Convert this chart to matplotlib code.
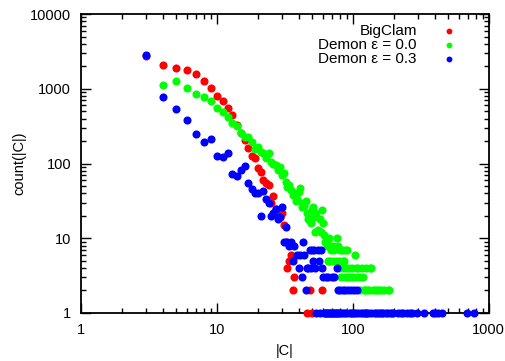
import matplotlib
matplotlib.use("Agg")
import matplotlib.pyplot as plt
from matplotlib.ticker import LogLocator, NullFormatter, FixedLocator, FixedFormatter

plt.rcParams["font.family"] = ["Liberation Sans", "DejaVu Sans"]

# BigClam
bigclam_size = [3, 4, 5, 6, 7, 8, 9, 10, 11, 12, 13, 14, 15, 16, 17, 18, 19, 20,
                21, 22, 23, 24, 25, 26, 27, 28, 29, 30, 31, 32, 33, 34, 35, 36, 37,
                46, 48, 50, 59]
bigclam_count = [2750, 2090, 1900, 1800, 1570, 1270, 1010, 800, 690, 550, 445, 330,
                 255, 205, 160, 125, 118, 87, 78, 60, 55, 52, 30, 37, 25, 21, 19, 22,
                 15, 9, 4, 5, 6, 2, 3, 1, 2, 1, 2]

# Demon eps = 0.0
demon0_size = [4, 5, 6, 7, 8, 9, 10, 11, 12, 13, 14, 15, 16, 17, 18, 19, 20, 21, 22,
               23, 24, 25, 26, 27, 28, 29, 30, 31, 32, 33, 34, 35, 36, 37, 38, 39, 40,
               41, 42, 43, 44, 45, 46, 47, 48, 49, 50, 51, 52, 53, 54, 55, 57, 58, 59,
               60, 61, 62, 64, 65, 67, 69, 71, 73, 76, 78, 81, 83, 87, 90, 103,
               66, 68, 72, 75, 79, 84, 86,
               80, 85, 89, 93, 98, 105, 110, 116, 124, 133, 137,
               82, 88, 92, 95, 100, 108, 112, 118,
               113, 120, 122, 127, 131, 140, 145, 150, 155, 160, 170, 180, 186,
               63, 70, 77, 91, 96, 106, 125, 142, 165, 190]
demon0_count = [1120, 1260, 1010, 860, 780, 690, 560, 490, 420, 345, 315, 255, 230,
                225, 195, 155, 167, 142, 140, 118, 138, 105, 100, 96, 82, 90, 70, 75,
                57, 49, 52, 44, 38, 40, 32, 34, 41, 47, 26, 30, 27, 32, 22, 18, 17, 16,
                24, 26, 19, 12, 22, 13, 18, 12, 24, 16, 11, 9, 9, 8, 10, 7, 8, 7, 10, 8,
                7, 7, 7, 7, 6,
                5, 5, 5, 5, 5, 5, 5,
                4, 4, 4, 4, 4, 4, 4, 4, 4, 4, 4,
                3, 3, 3, 3, 3, 3, 3, 3,
                2, 2, 2, 2, 2, 2, 2, 2, 2, 2, 2, 2, 2,
                1, 1, 1, 1, 1, 1, 1, 1, 1, 1]

# Demon eps = 0.3
demon3_size = [3, 4, 5, 6, 7, 8, 9, 10, 11, 12, 13, 14, 15, 16, 17, 18, 19, 20, 21,
               22, 23, 24, 25, 26, 27, 28, 29, 30, 32,
               31, 33, 35, 43, 34, 37,
               48, 50, 52, 55, 58,
               39, 41, 44,
               36, 51, 56,
               40, 46, 47, 49, 53, 59, 76,
               42, 60, 63, 66, 70, 73,
               45, 78, 81, 85, 88, 92, 97, 102, 107,
               54, 57, 61, 62, 64, 65, 67, 68, 69, 71, 72, 74, 75, 77, 79, 80, 83,
               86, 89, 95, 98, 101, 104, 110, 114, 118, 122, 126, 130, 135, 145,
               150, 156, 162, 168, 175, 182, 190, 197, 214, 225, 235, 250, 262, 272,
               296, 333, 388, 405, 422, 451, 689, 776]
demon3_count = [2830, 780, 536, 380, 248, 194, 210, 126, 122, 138, 72, 68, 82, 92,
                55, 45, 40, 40, 20, 43, 34, 30, 20, 22, 25, 18, 19, 26, 14,
                9, 9, 9, 9, 8, 8,
                7, 7, 7, 7, 7,
                6, 6, 6,
                5, 5, 5,
                4, 4, 4, 4, 4, 4, 4,
                3, 3, 3, 3, 3, 3,
                2, 2, 2, 2, 2, 2, 2, 2, 2,
                1, 1, 1, 1, 1, 1, 1, 1, 1, 1, 1, 1, 1, 1, 1, 1, 1,
                1, 1, 1, 1, 1, 1, 1, 1, 1, 1, 1, 1, 1, 1,
                1, 1, 1, 1, 1, 1, 1, 1, 1, 1, 1, 1, 1, 1,
                1, 1, 1, 1, 1, 1, 1, 1]

fig = plt.figure(figsize=(5.06, 3.61), dpi=100)
ax = fig.add_axes([0.160, 0.133, 0.806, 0.828])

ms = 34
ax.scatter(bigclam_size, bigclam_count, s=ms, c="#ff0000", lw=0,
           label="BigClam", clip_on=False, zorder=3)
ax.scatter(demon0_size, demon0_count, s=ms, c="#00ff00", lw=0,
           label="Demon ε = 0.0", clip_on=False, zorder=4)
ax.scatter(demon3_size, demon3_count, s=ms, c="#0000ff", lw=0,
           label="Demon ε = 0.3", clip_on=False, zorder=5)

ax.set_xscale("log")
ax.set_yscale("log")
ax.set_xlim(1, 1000)
ax.set_ylim(1, 10000)

ax.xaxis.set_major_locator(FixedLocator([1, 10, 100, 1000]))
ax.xaxis.set_major_formatter(FixedFormatter(["1", "10", "100", "1000"]))
ax.yaxis.set_major_locator(FixedLocator([1, 10, 100, 1000, 10000]))
ax.yaxis.set_major_formatter(FixedFormatter(["1", "10", "100", "1000", "10000"]))
ax.xaxis.set_minor_locator(LogLocator(base=10, subs=range(2, 10)))
ax.yaxis.set_minor_locator(LogLocator(base=10, subs=range(2, 10)))
ax.xaxis.set_minor_formatter(NullFormatter())
ax.yaxis.set_minor_formatter(NullFormatter())

ax.tick_params(which="both", direction="in", top=True, right=True,
               labelsize=10.5, width=1, pad=7)
ax.tick_params(which="major", length=7)
ax.tick_params(which="minor", length=3.5)
for sp in ax.spines.values():
    sp.set_linewidth(1.3)

ax.set_xlabel("|C|", fontsize=10.5, labelpad=5)
ax.set_ylabel("count(|C|)", fontsize=10.5, labelpad=3)

ax.legend(loc="upper right", bbox_to_anchor=(0.936, 0.987), frameon=False,
          markerfirst=False, fontsize=11, handletextpad=1.6, labelspacing=0.0,
          borderaxespad=0.0, scatterpoints=1, handlelength=1.0, markerscale=0.72)

fig.savefig("out.png", dpi=100)
